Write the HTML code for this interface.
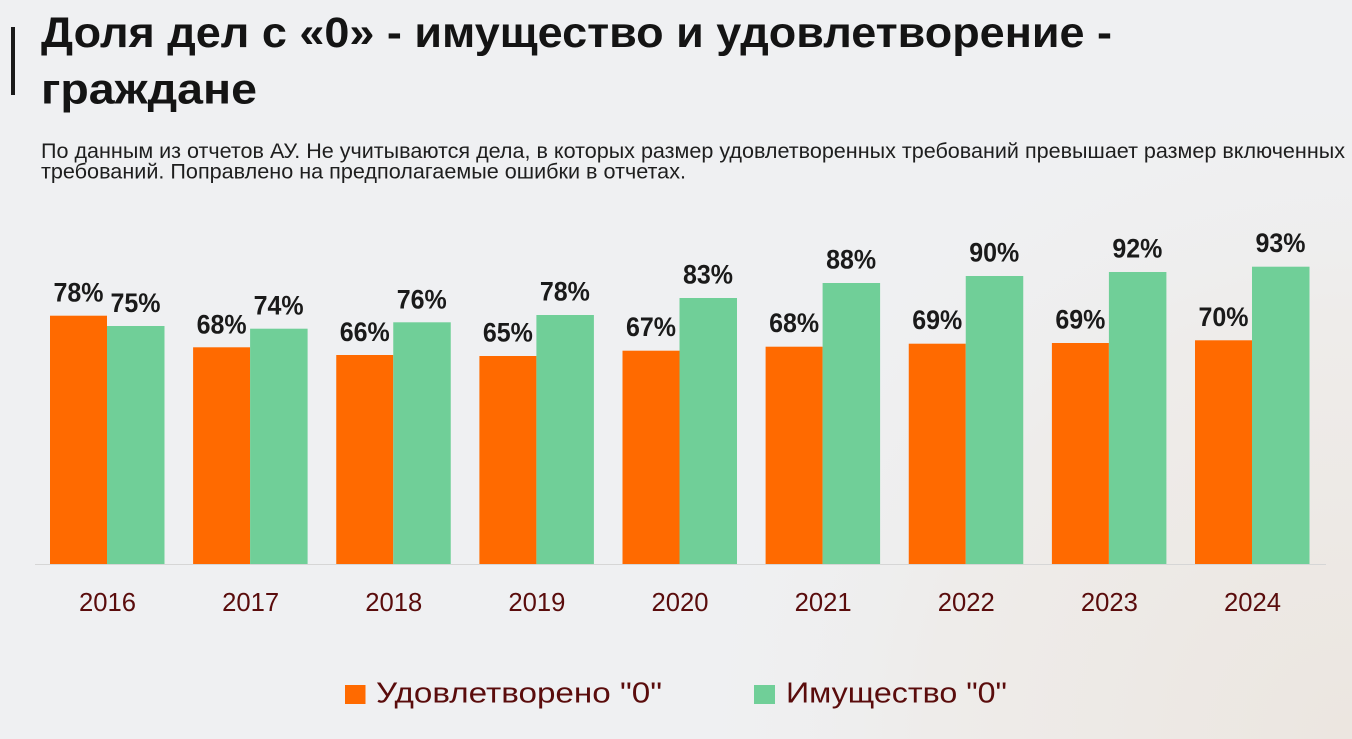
<!DOCTYPE html>
<html>
<head>
<meta charset="utf-8">
<style>
  html, body { margin: 0; padding: 0; }
  body { width: 1352px; height: 739px; overflow: hidden; background: #eff0f2; }
  svg { display: block; }
  text { font-family: "Liberation Sans", "DejaVu Sans", sans-serif; }
</style>
</head>
<body>
<svg width="1352" height="739" viewBox="0 0 1352 739" xmlns="http://www.w3.org/2000/svg">
  <defs>
    <radialGradient id="bgw" cx="1352" cy="739" r="700" gradientUnits="userSpaceOnUse">
      <stop offset="0" stop-color="#ece6e0"/>
      <stop offset="0.6" stop-color="#eeecea"/>
      <stop offset="1" stop-color="#eff0f2" stop-opacity="0"/>
    </radialGradient>
  </defs>
  <rect x="0" y="0" width="1352" height="739" fill="#eff0f2"/>
  <rect x="0" y="0" width="1352" height="739" fill="url(#bgw)"/>

  <!-- Title -->
  <rect x="11" y="27" width="4" height="68" fill="#1a1a1a"/>
  <text x="41" y="47" font-size="43" font-weight="bold" fill="#141414" textLength="1071" lengthAdjust="spacingAndGlyphs">Доля дел с «0» - имущество и удовлетворение -</text>
  <text x="41" y="103.5" font-size="43" font-weight="bold" fill="#141414" textLength="216" lengthAdjust="spacingAndGlyphs">граждане</text>

  <!-- Subtitle -->
  <text x="41" y="158" font-size="21" fill="#1e1e1e" textLength="1304" lengthAdjust="spacingAndGlyphs">По данным из отчетов АУ. Не учитываются дела, в которых размер удовлетворенных требований превышает размер включенных</text>
  <text x="41" y="178.5" font-size="21" fill="#1e1e1e" textLength="645" lengthAdjust="spacingAndGlyphs">требований. Поправлено на предполагаемые ошибки в отчетах.</text>

  <!-- Axis line -->
  <line x1="35" y1="564.5" x2="1326" y2="564.5" stroke="#d6d6d6" stroke-width="1"/>

  <!-- Bars -->
  <g>
    <rect x="50" y="315.7" width="57" height="248.3" fill="#ff6a00"/>
    <rect x="107" y="326" width="57.5" height="238" fill="#70cf98"/>
    <rect x="193.1" y="347.3" width="57" height="216.7" fill="#ff6a00"/>
    <rect x="250.1" y="328.7" width="57.5" height="235.3" fill="#70cf98"/>
    <rect x="336.25" y="355" width="57" height="209" fill="#ff6a00"/>
    <rect x="393.25" y="322.3" width="57.5" height="241.7" fill="#70cf98"/>
    <rect x="479.4" y="356" width="57" height="208" fill="#ff6a00"/>
    <rect x="536.4" y="315" width="57.5" height="249" fill="#70cf98"/>
    <rect x="622.5" y="350.7" width="57" height="213.3" fill="#ff6a00"/>
    <rect x="679.5" y="298" width="57.5" height="266" fill="#70cf98"/>
    <rect x="765.6" y="346.7" width="57" height="217.3" fill="#ff6a00"/>
    <rect x="822.6" y="283" width="57.5" height="281" fill="#70cf98"/>
    <rect x="908.75" y="343.7" width="57" height="220.3" fill="#ff6a00"/>
    <rect x="965.75" y="276" width="57.5" height="288" fill="#70cf98"/>
    <rect x="1051.9" y="343" width="57" height="221" fill="#ff6a00"/>
    <rect x="1108.9" y="272" width="57.5" height="292" fill="#70cf98"/>
    <rect x="1195" y="340.3" width="57" height="223.7" fill="#ff6a00"/>
    <rect x="1252" y="266.7" width="57.5" height="297.3" fill="#70cf98"/>
  </g>

  <!-- Data labels -->
  <g font-size="27" font-weight="bold" fill="#1a1a1a" text-anchor="middle">
    <text x="78.5" y="301.7" textLength="50" lengthAdjust="spacingAndGlyphs">78%</text>
    <text x="135.5" y="312" textLength="50" lengthAdjust="spacingAndGlyphs">75%</text>
    <text x="221.6" y="333.3" textLength="50" lengthAdjust="spacingAndGlyphs">68%</text>
    <text x="278.6" y="314.7" textLength="50" lengthAdjust="spacingAndGlyphs">74%</text>
    <text x="364.75" y="341" textLength="50" lengthAdjust="spacingAndGlyphs">66%</text>
    <text x="421.75" y="308.3" textLength="50" lengthAdjust="spacingAndGlyphs">76%</text>
    <text x="507.9" y="341.5" textLength="50" lengthAdjust="spacingAndGlyphs">65%</text>
    <text x="564.9" y="300.5" textLength="50" lengthAdjust="spacingAndGlyphs">78%</text>
    <text x="651" y="336.2" textLength="50" lengthAdjust="spacingAndGlyphs">67%</text>
    <text x="708" y="283.5" textLength="50" lengthAdjust="spacingAndGlyphs">83%</text>
    <text x="794.1" y="332.2" textLength="50" lengthAdjust="spacingAndGlyphs">68%</text>
    <text x="851.1" y="268.5" textLength="50" lengthAdjust="spacingAndGlyphs">88%</text>
    <text x="937.25" y="329.2" textLength="50" lengthAdjust="spacingAndGlyphs">69%</text>
    <text x="994.25" y="261.5" textLength="50" lengthAdjust="spacingAndGlyphs">90%</text>
    <text x="1080.4" y="328.5" textLength="50" lengthAdjust="spacingAndGlyphs">69%</text>
    <text x="1137.4" y="257.5" textLength="50" lengthAdjust="spacingAndGlyphs">92%</text>
    <text x="1223.5" y="325.8" textLength="50" lengthAdjust="spacingAndGlyphs">70%</text>
    <text x="1280.5" y="252.2" textLength="50" lengthAdjust="spacingAndGlyphs">93%</text>
  </g>

  <!-- Year labels -->
  <g font-size="26" fill="#5a0c0c" text-anchor="middle">
    <text x="107.5" y="611" textLength="57" lengthAdjust="spacingAndGlyphs">2016</text>
    <text x="250.6" y="611" textLength="57" lengthAdjust="spacingAndGlyphs">2017</text>
    <text x="393.75" y="611" textLength="57" lengthAdjust="spacingAndGlyphs">2018</text>
    <text x="536.9" y="611" textLength="57" lengthAdjust="spacingAndGlyphs">2019</text>
    <text x="680" y="611" textLength="57" lengthAdjust="spacingAndGlyphs">2020</text>
    <text x="823.1" y="611" textLength="57" lengthAdjust="spacingAndGlyphs">2021</text>
    <text x="966.25" y="611" textLength="57" lengthAdjust="spacingAndGlyphs">2022</text>
    <text x="1109.4" y="611" textLength="57" lengthAdjust="spacingAndGlyphs">2023</text>
    <text x="1252.5" y="611" textLength="57" lengthAdjust="spacingAndGlyphs">2024</text>
  </g>

  <!-- Legend -->
  <rect x="345" y="685" width="20.5" height="19" fill="#ff6a00"/>
  <text x="376" y="702.5" font-size="29" fill="#5a0c0c" textLength="286" lengthAdjust="spacingAndGlyphs">Удовлетворено "0"</text>
  <rect x="754" y="685" width="21" height="19" fill="#70cf98"/>
  <text x="786" y="702.5" font-size="29" fill="#5a0c0c" textLength="221" lengthAdjust="spacingAndGlyphs">Имущество "0"</text>
</svg>
</body>
</html>
